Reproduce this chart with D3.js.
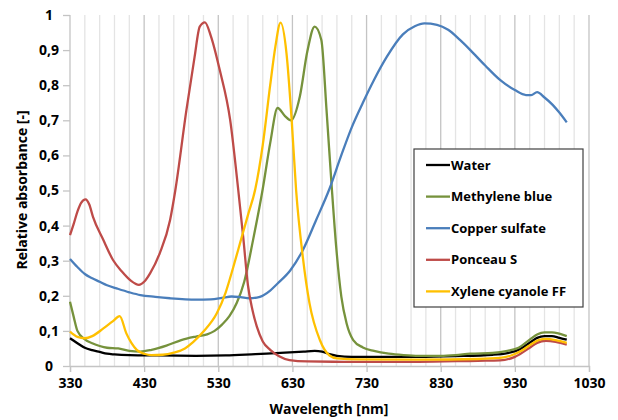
<!DOCTYPE html>
<html lang="en">
<head>
<meta charset="UTF-8">
<title>Relative absorbance</title>
<script src="https://d3js.org/d3.v7.min.js"></script>
<style>
    body { margin: 0; background: #ffffff; }
    text { font-family: "Open Sans", "Liberation Sans", sans-serif; font-weight: bold; fill: #000; }
</style>
</head>
<body>
<svg id="chart" width="618" height="420"></svg>
<script>
    // [wavelength nm, relative absorbance]
    const water = [[330,.079],[340,.065],[350,.052],[360,.045],[370,.040],[380,.035],[390,.033],[410,.031],[450,.030],[500,.029],[540,.030],[580,.034],[620,.038],[645,.041],[660,.043],[670,.041],[680,.034],[690,.029],[710,.026],[800,.026],[850,.028],[900,.032],[920,.037],[935,.046],[950,.066],[960,.080],[970,.085],[980,.085],[990,.080],[1000,.075]];
    const methyleneBlue = [[330,.183],[335,.14],[340,.100],[350,.076],[360,.065],[370,.057],[380,.052],[395,.050],[410,.043],[425,.041],[440,.046],[460,.058],[480,.074],[500,.084],[515,.090],[525,.100],[535,.118],[545,.142],[555,.180],[565,.240],[577,.360],[590,.505],[600,.635],[610,.735],[620,.712],[628,.700],[640,.768],[650,.895],[660,.967],[669,.929],[676,.729],[683,.51],[689,.34],[696,.197],[703,.122],[712,.074],[725,.053],[740,.043],[760,.035],[780,.031],[800,.029],[830,.029],[850,.031],[870,.035],[900,.037],[920,.043],[935,.052],[950,.075],[960,.090],[970,.096],[980,.096],[990,.092],[1000,.085]];
    const copperSulfate = [[330,.305],[340,.282],[350,.262],[360,.250],[370,.240],[380,.230],[393,.221],[410,.210],[425,.202],[445,.197],[465,.193],[500,.189],[520,.190],[535,.194],[548,.198],[560,.196],[572,.193],[586,.197],[600,.215],[610,.235],[627,.272],[644,.330],[662,.416],[680,.505],[695,.595],[710,.680],[725,.750],[740,.815],[757,.880],[779,.945],[795,.968],[808,.976],[825,.972],[840,.958],[856,.929],[870,.900],[890,.856],[910,.815],[930,.786],[945,.772],[952,.772],[960,.780],[970,.765],[981,.744],[990,.722],[1000,.694]];
    const ponceauS = [[330,.373],[335,.405],[340,.440],[345,.465],[351,.475],[356,.460],[361,.425],[375,.359],[388,.302],[400,.269],[412,.243],[423,.231],[430,.240],[438,.264],[451,.321],[465,.416],[472,.50],[487,.729],[498,.88],[505,.967],[512,.979],[520,.94],[532,.843],[546,.701],[557,.50],[564,.359],[570,.230],[576,.160],[582,.112],[590,.07],[600,.046],[612,.028],[626,.017],[650,.013],[700,.012],[800,.012],[880,.015],[910,.016],[930,.026],[950,.052],[960,.066],[972,.072],[985,.069],[1000,.061]];
    const xyleneCyanole = [[330,.098],[340,.083],[350,.079],[360,.085],[375,.107],[388,.128],[397,.142],[406,.093],[413,.065],[420,.046],[430,.035],[440,.031],[455,.032],[470,.038],[485,.050],[496,.068],[510,.098],[528,.150],[540,.210],[550,.280],[560,.355],[570,.430],[580,.505],[590,.630],[600,.800],[607,.910],[614,.978],[622,.891],[629,.700],[635,.50],[644,.311],[653,.179],[667,.074],[680,.030],[690,.022],[720,.019],[800,.018],[880,.020],[910,.023],[925,.030],[940,.045],[952,.062],[962,.074],[972,.077],[985,.074],[1000,.066]];

    const seriesNames = ["Water", "Methylene blue", "Copper sulfate", "Ponceau S", "Xylene cyanole FF"];
    const seriesColors = ["#000000", "#76923C", "#4A7EBB", "#BE4B48", "#FFC000"];
    const seriesData = [water, methyleneBlue, copperSulfate, ponceauS, xyleneCyanole];

    const xTicks = [330, 430, 530, 630, 730, 830, 930, 1030];
    const xMinor = d3.range(350, 1030, 20).filter(v => (v - 330) % 100 !== 0);
    const yTicks = [0, 0.1, 0.2, 0.3, 0.4, 0.5, 0.6, 0.7, 0.8, 0.9, 1];

    const svg = d3.select("#chart");
    const margin = { top: 15, right: 29, bottom: 54, left: 70 };
    const width = 618 - margin.left - margin.right;
    const height = 420 - margin.top - margin.bottom;

    const x = d3.scaleLinear().domain([330, 1030]).range([0, width]);
    const y = d3.scaleLinear().domain([0, 1]).range([height, 0]);

    const g = svg.append("g").attr("transform", `translate(${margin.left},${margin.top})`);

    // vertical gridlines
    g.selectAll(".minor").data(xMinor).join("line")
        .attr("x1", d => x(d)).attr("x2", d => x(d))
        .attr("y1", 0).attr("y2", height)
        .attr("stroke", "#e4e4e4").attr("stroke-width", 1.3);
    g.selectAll(".major").data(xTicks.slice(1)).join("line")
        .attr("x1", d => x(d)).attr("x2", d => x(d))
        .attr("y1", 0).attr("y2", height)
        .attr("stroke", "#c4c4c4").attr("stroke-width", 1.3);

    const fmt = d => d3.format(".1~f")(d).replace(".", ",");

    // x axis
    const xAxis = g.append("g").attr("transform", `translate(0,${height})`)
        .call(d3.axisBottom(x).tickValues(xTicks).tickFormat(d3.format("d")).tickSize(6).tickPadding(6));
    xAxis.selectAll("line, path").attr("stroke", "#c4c4c4").attr("stroke-width", 1.3);
    xAxis.selectAll("text").attr("font-size", 14).attr("font-family", null);

    // y axis
    const yAxis = g.append("g")
        .call(d3.axisLeft(y).tickValues(yTicks).tickFormat(fmt).tickSize(7).tickPadding(4));
    yAxis.selectAll("line, path").attr("stroke", "#c4c4c4").attr("stroke-width", 1.3);
    yAxis.selectAll("text").attr("font-size", 14).attr("font-family", null)
        .attr("text-anchor", "middle").attr("x", -21);
    yAxis.select(".domain").attr("d", `M0,0V${height}`);

    // lines
    const line = d3.line()
        .x(d => x(d[0]))
        .y(d => y(d[1]))
        .curve(d3.curveMonotoneX);

    g.selectAll(".series").data(seriesData).join("path")
        .attr("fill", "none")
        .attr("stroke", (d, i) => seriesColors[i])
        .attr("stroke-width", 2.3)
        .attr("stroke-linejoin", "round")
        .attr("d", line);

    // axis titles
    svg.append("text")
        .attr("x", 329).attr("y", 414)
        .attr("text-anchor", "middle").attr("font-size", 14)
        .text("Wavelength [nm]");
    svg.append("text")
        .attr("transform", "translate(27,190) rotate(-90)")
        .attr("text-anchor", "middle").attr("font-size", 14)
        .text("Relative absorbance [-]");

    // legend
    const legend = svg.append("g").attr("transform", "translate(414,149)");
    legend.append("rect")
        .attr("width", 169).attr("height", 158)
        .attr("fill", "#ffffff").attr("stroke", "#404040").attr("stroke-width", 1.2);
    const items = legend.selectAll(".item").data(seriesNames).join("g")
        .attr("transform", (d, i) => `translate(0,${16 + i * 31.6})`);
    items.append("line")
        .attr("x1", 12).attr("x2", 36)
        .attr("stroke", (d, i) => seriesColors[i]).attr("stroke-width", 2.3);
    items.append("text")
        .attr("x", 37).attr("dy", "0.35em").attr("font-size", 13)
        .text(d => d);
</script>
</body>
</html>
